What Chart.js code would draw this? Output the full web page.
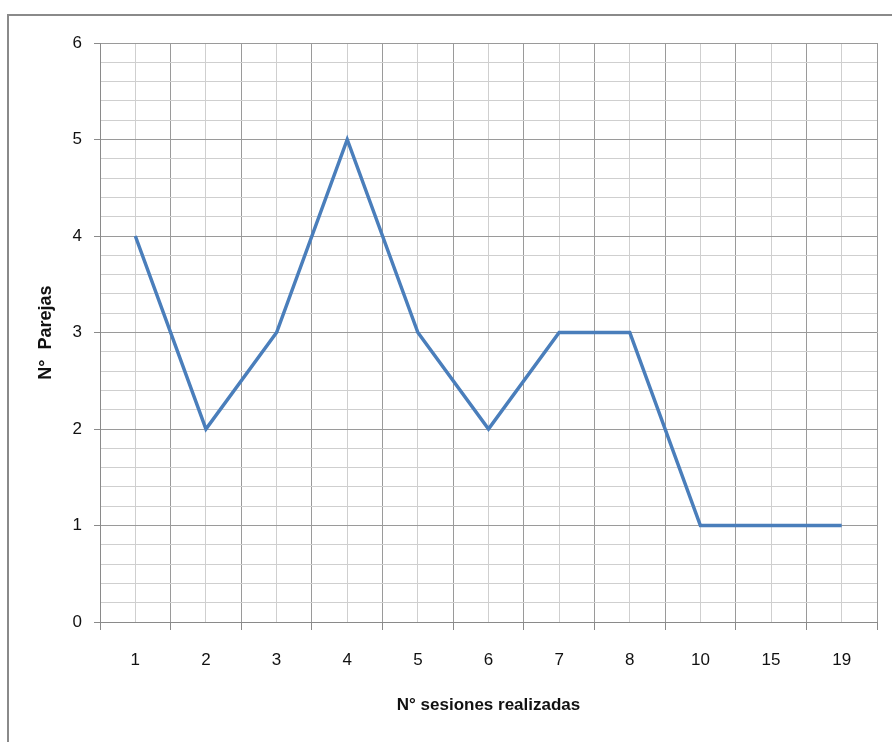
<!DOCTYPE html>
<html>
<head>
<meta charset="utf-8">
<script src="https://cdn.jsdelivr.net/npm/chart.js@4/dist/chart.umd.min.js"></script>
<style>
  html, body { margin: 0; padding: 0; background: #fff; overflow: hidden; }
  #wrap { position: relative; width: 892px; height: 742px; }
  #frame { position: absolute; left: 7px; top: 14px; width: 900px; height: 800px;
           border-left: 2px solid #8a8a8a; border-top: 2px solid #8a8a8a; box-sizing: border-box; }
  canvas { position: absolute; left: 0; top: 0; }
</style>
</head>
<body>
<div id="wrap">
  <div id="frame"></div>
  <canvas id="c" width="892" height="742"></canvas>
</div>
<script>
const categories = ['1', '2', '3', '4', '5', '6', '7', '8', '10', '15', '19'];
const parejas = [4, 2, 3, 5, 3, 2, 3, 3, 1, 1, 1];
const yTickValues = [0, 1, 2, 3, 4, 5, 6];
const xTitle = 'N° sesiones realizadas';
const yTitle = 'N°  Parejas';

const FONT = '"Liberation Sans", Arial, sans-serif';
const isMajor = v => Math.abs(v - Math.round(v)) < 1e-6;

new Chart(document.getElementById('c'), {
  type: 'line',
  data: {
    labels: categories,
    datasets: [{
      data: parejas,
      borderColor: '#4a7ebb',
      borderWidth: 3.5,
      pointRadius: 0,
      tension: 0,
      fill: false,
      xAxisID: 'x',
      yAxisID: 'y'
    }]
  },
  options: {
    responsive: false,
    animation: false,
    layout: { padding: { left: 8, right: 15, top: 43, bottom: 0 } },
    plugins: { legend: { display: false }, tooltip: { enabled: false } },
    scales: {
      x: {
        type: 'category',
        position: 'bottom',
        offset: true,
        grid: { offset: true, color: '#9a9a9a', lineWidth: 1, tickLength: 8, tickColor: '#8a8a8a' },
        border: { display: true, color: '#8a8a8a', width: 1 },
        ticks: { color: '#111', font: { family: FONT, size: 17 }, padding: 20, maxRotation: 0 },
        title: { display: true, text: xTitle, color: '#111',
                 font: { family: FONT, size: 17, weight: 'bold' }, padding: { top: 0, bottom: 26 } },
        afterFit: s => { s.height = 120; }
      },
      x2: {
        type: 'category',
        position: 'top',
        labels: categories,
        offset: true,
        grid: { offset: false, color: '#cfcfcf', lineWidth: 1, drawTicks: false },
        border: { display: false },
        ticks: { display: false },
        afterFit: s => { s.height = 0; }
      },
      y: {
        type: 'linear',
        min: 0,
        max: 6,
        ticks: {
          stepSize: 0.2,
          autoSkip: false,
          color: '#111',
          font: { family: FONT, size: 17 },
          padding: 12,
          callback: v => (isMajor(v) && yTickValues.includes(Math.round(v))) ? String(Math.round(v)) : ''
        },
        grid: {
          color: c => isMajor(c.tick.value) ? '#9a9a9a' : '#cfcfcf',
          lineWidth: 1,
          tickLength: 6,
          tickColor: c => isMajor(c.tick.value) ? '#8a8a8a' : 'rgba(0,0,0,0)'
        },
        border: { display: true, color: '#8a8a8a', width: 1 },
        title: { display: true, text: yTitle, color: '#111',
                 font: { family: FONT, size: 18, weight: 'bold' }, padding: { top: 27, bottom: 0 } },
        afterFit: s => { s.width = 92; }
      }
    }
  }
});
</script>
</body>
</html>
